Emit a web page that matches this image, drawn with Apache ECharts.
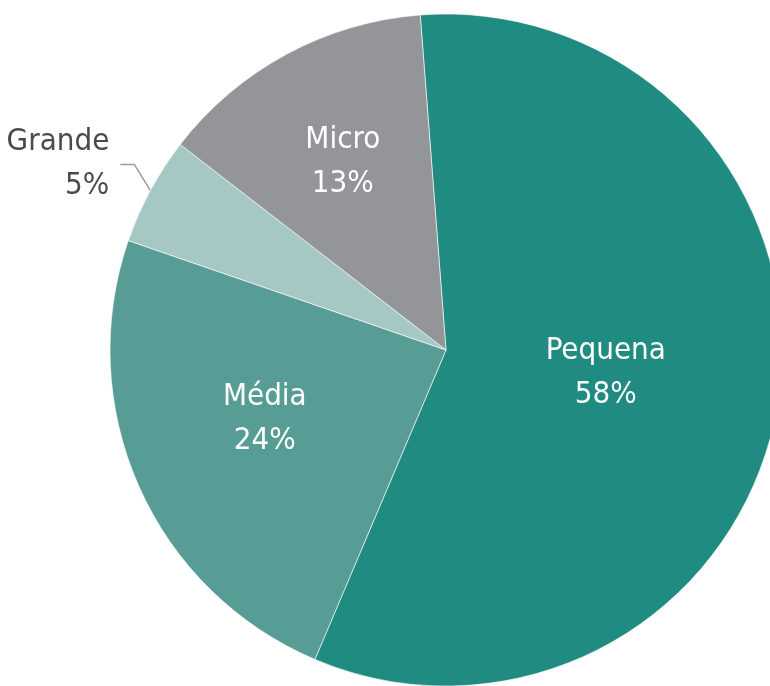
<!DOCTYPE html>
<html>
<head>
<meta charset="utf-8">
<script src="https://cdn.jsdelivr.net/npm/echarts@6/dist/echarts.min.js"></script>
<style>
  html, body { margin: 0; padding: 0; background: #fff; }
  #chart { width: 770px; height: 686px; }
</style>
</head>
<body>
<div id="chart"></div>
<script>
// slice sizes; labels show the rounded share
const categories = ['Pequena', 'Média', 'Grande', 'Micro']
const shares = [57.6, 23.9, 5.2, 13.3]
const colors = ['#1f8b81', '#579d95', '#a6c8c4', '#939598']

const font = "'DejaVu Sans Condensed', 'Liberation Sans Narrow', sans-serif"

// nudges for the inside labels (the reference puts them a bit off the mid radius)
const labelNudge = {
  Pequena: [-9, -5],
  'Média': [-25, -1],
  Micro: [-22, -38]
}

const chart = echarts.init(document.getElementById('chart'))

const data = categories.map((name, i) => {
  const item = { name, value: shares[i], itemStyle: { color: colors[i] } }
  if (name === 'Grande') {
    item.label = { position: 'outside', color: '#4a4a4a' }
    item.labelLine = {
      show: true,
      length: 20,
      length2: 14,
      lineStyle: { color: '#9a9a9a', width: 1.5 }
    }
  } else {
    item.label = { position: 'inside', color: '#fff', offset: labelNudge[name] }
    item.labelLine = { show: false }
  }
  return item
})

// the Grande leader goes up at a steep angle, then a short flat run to the text
function grandeLayout(p) {
  if (p.dataIndex !== 2 || !p.labelLinePoints) return {}
  const a = p.labelLinePoints[0]
  const b = [a[0] - 16, a[1] - 26]
  const c = [b[0] - 14, b[1]]
  return {
    x: c[0] - 11,
    y: c[1],
    align: 'right',
    verticalAlign: 'middle',
    labelLinePoints: [a, b, c]
  }
}

chart.setOption({
  animation: false,
  series: [
    {
      type: 'pie',
      center: [446, 350],
      radius: 336,
      startAngle: 94.4,
      clockwise: true,
      avoidLabelOverlap: false,
      itemStyle: { borderColor: '#fff', borderWidth: 0.6 },
      label: {
        formatter: p => p.name + '\n' + Math.round(p.percent) + '%',
        fontFamily: font,
        fontSize: 31,
        lineHeight: 44
      },
      labelLayout: grandeLayout,
      emphasis: { disabled: true },
      data: data
    }
  ]
})
</script>
</body>
</html>
